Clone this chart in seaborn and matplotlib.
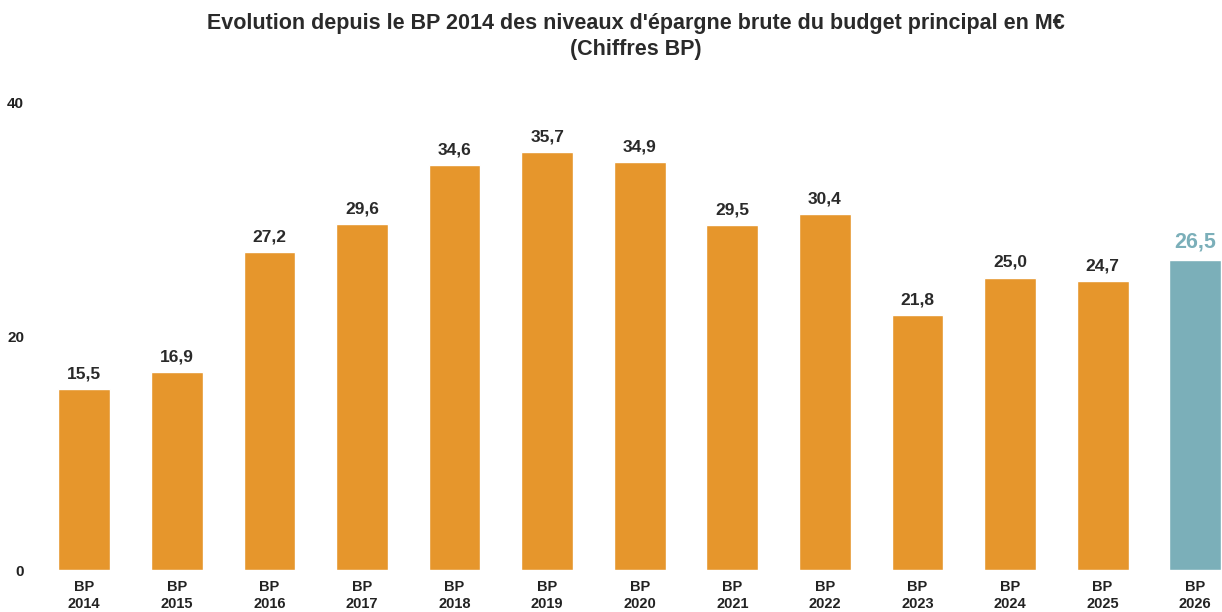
import matplotlib
matplotlib.use("Agg")
import matplotlib.pyplot as plt
import seaborn as sns
import pandas as pd

categories = ["BP\n2014", "BP\n2015", "BP\n2016", "BP\n2017", "BP\n2018", "BP\n2019", "BP\n2020",
              "BP\n2021", "BP\n2022", "BP\n2023", "BP\n2024", "BP\n2025", "BP\n2026"]
values = [15.5, 16.9, 27.2, 29.6, 34.6, 35.7, 34.9, 29.5, 30.4, 21.8, 25.0, 24.7, 26.5]
value_labels = ["15,5", "16,9", "27,2", "29,6", "34,6", "35,7", "34,9", "29,5", "30,4", "21,8", "25,0", "24,7", "26,5"]
y_ticks = [0, 20, 40]

sns.set_theme(style="white")
plt.rcParams['font.family'] = ['Liberation Sans', 'DejaVu Sans']

orange = "#E6962C"
teal = "#7BAFB9"
colors = [orange] * (len(values) - 1) + [teal]

df = pd.DataFrame({"cat": categories, "val": values})

fig = plt.figure(figsize=(12.22, 6.12), dpi=100)
ax = fig.add_axes([38 / 1222, 42 / 612, 1 - 38 / 1222, (570 - 102) / 612])

sns.barplot(data=df, x="cat", y="val", hue="cat", palette=colors, legend=False,
            width=0.56, ax=ax, saturation=1)

for i, (v, lab) in enumerate(zip(values, value_labels)):
    last = i == len(values) - 1
    ax.text(i, v + 0.65, lab, ha="center", va="bottom",
            fontsize=15.5 if last else 12.5, fontweight="bold",
            color=teal if last else "#2a2a2a")

ax.set_ylim(0, 40)
ax.set_xlim(-0.5, 12.29)
ax.set_yticks(y_ticks)
ax.set_yticklabels([str(t) for t in y_ticks], fontsize=11, fontweight="bold", color="#222222")
ax.tick_params(axis="y", pad=10, length=0)
ax.tick_params(axis="x", pad=7, length=0)
for lbl in ax.get_xticklabels():
    lbl.set_fontsize(10.5)
    lbl.set_fontweight("bold")
    lbl.set_color("#222222")
    lbl.set_linespacing(1.3)
ax.set_xlabel("")
ax.set_ylabel("")
for s in ax.spines.values():
    s.set_visible(False)
ax.grid(False)

fig.text(0.52, 0.978, "Evolution depuis le BP 2014 des niveaux d'épargne brute du budget principal en M€\n(Chiffres BP)",
         ha="center", va="top", fontsize=15.5, fontweight="bold", color="#2a2a2a", linespacing=1.3)

fig.savefig("out.png", dpi=100, facecolor="white")
